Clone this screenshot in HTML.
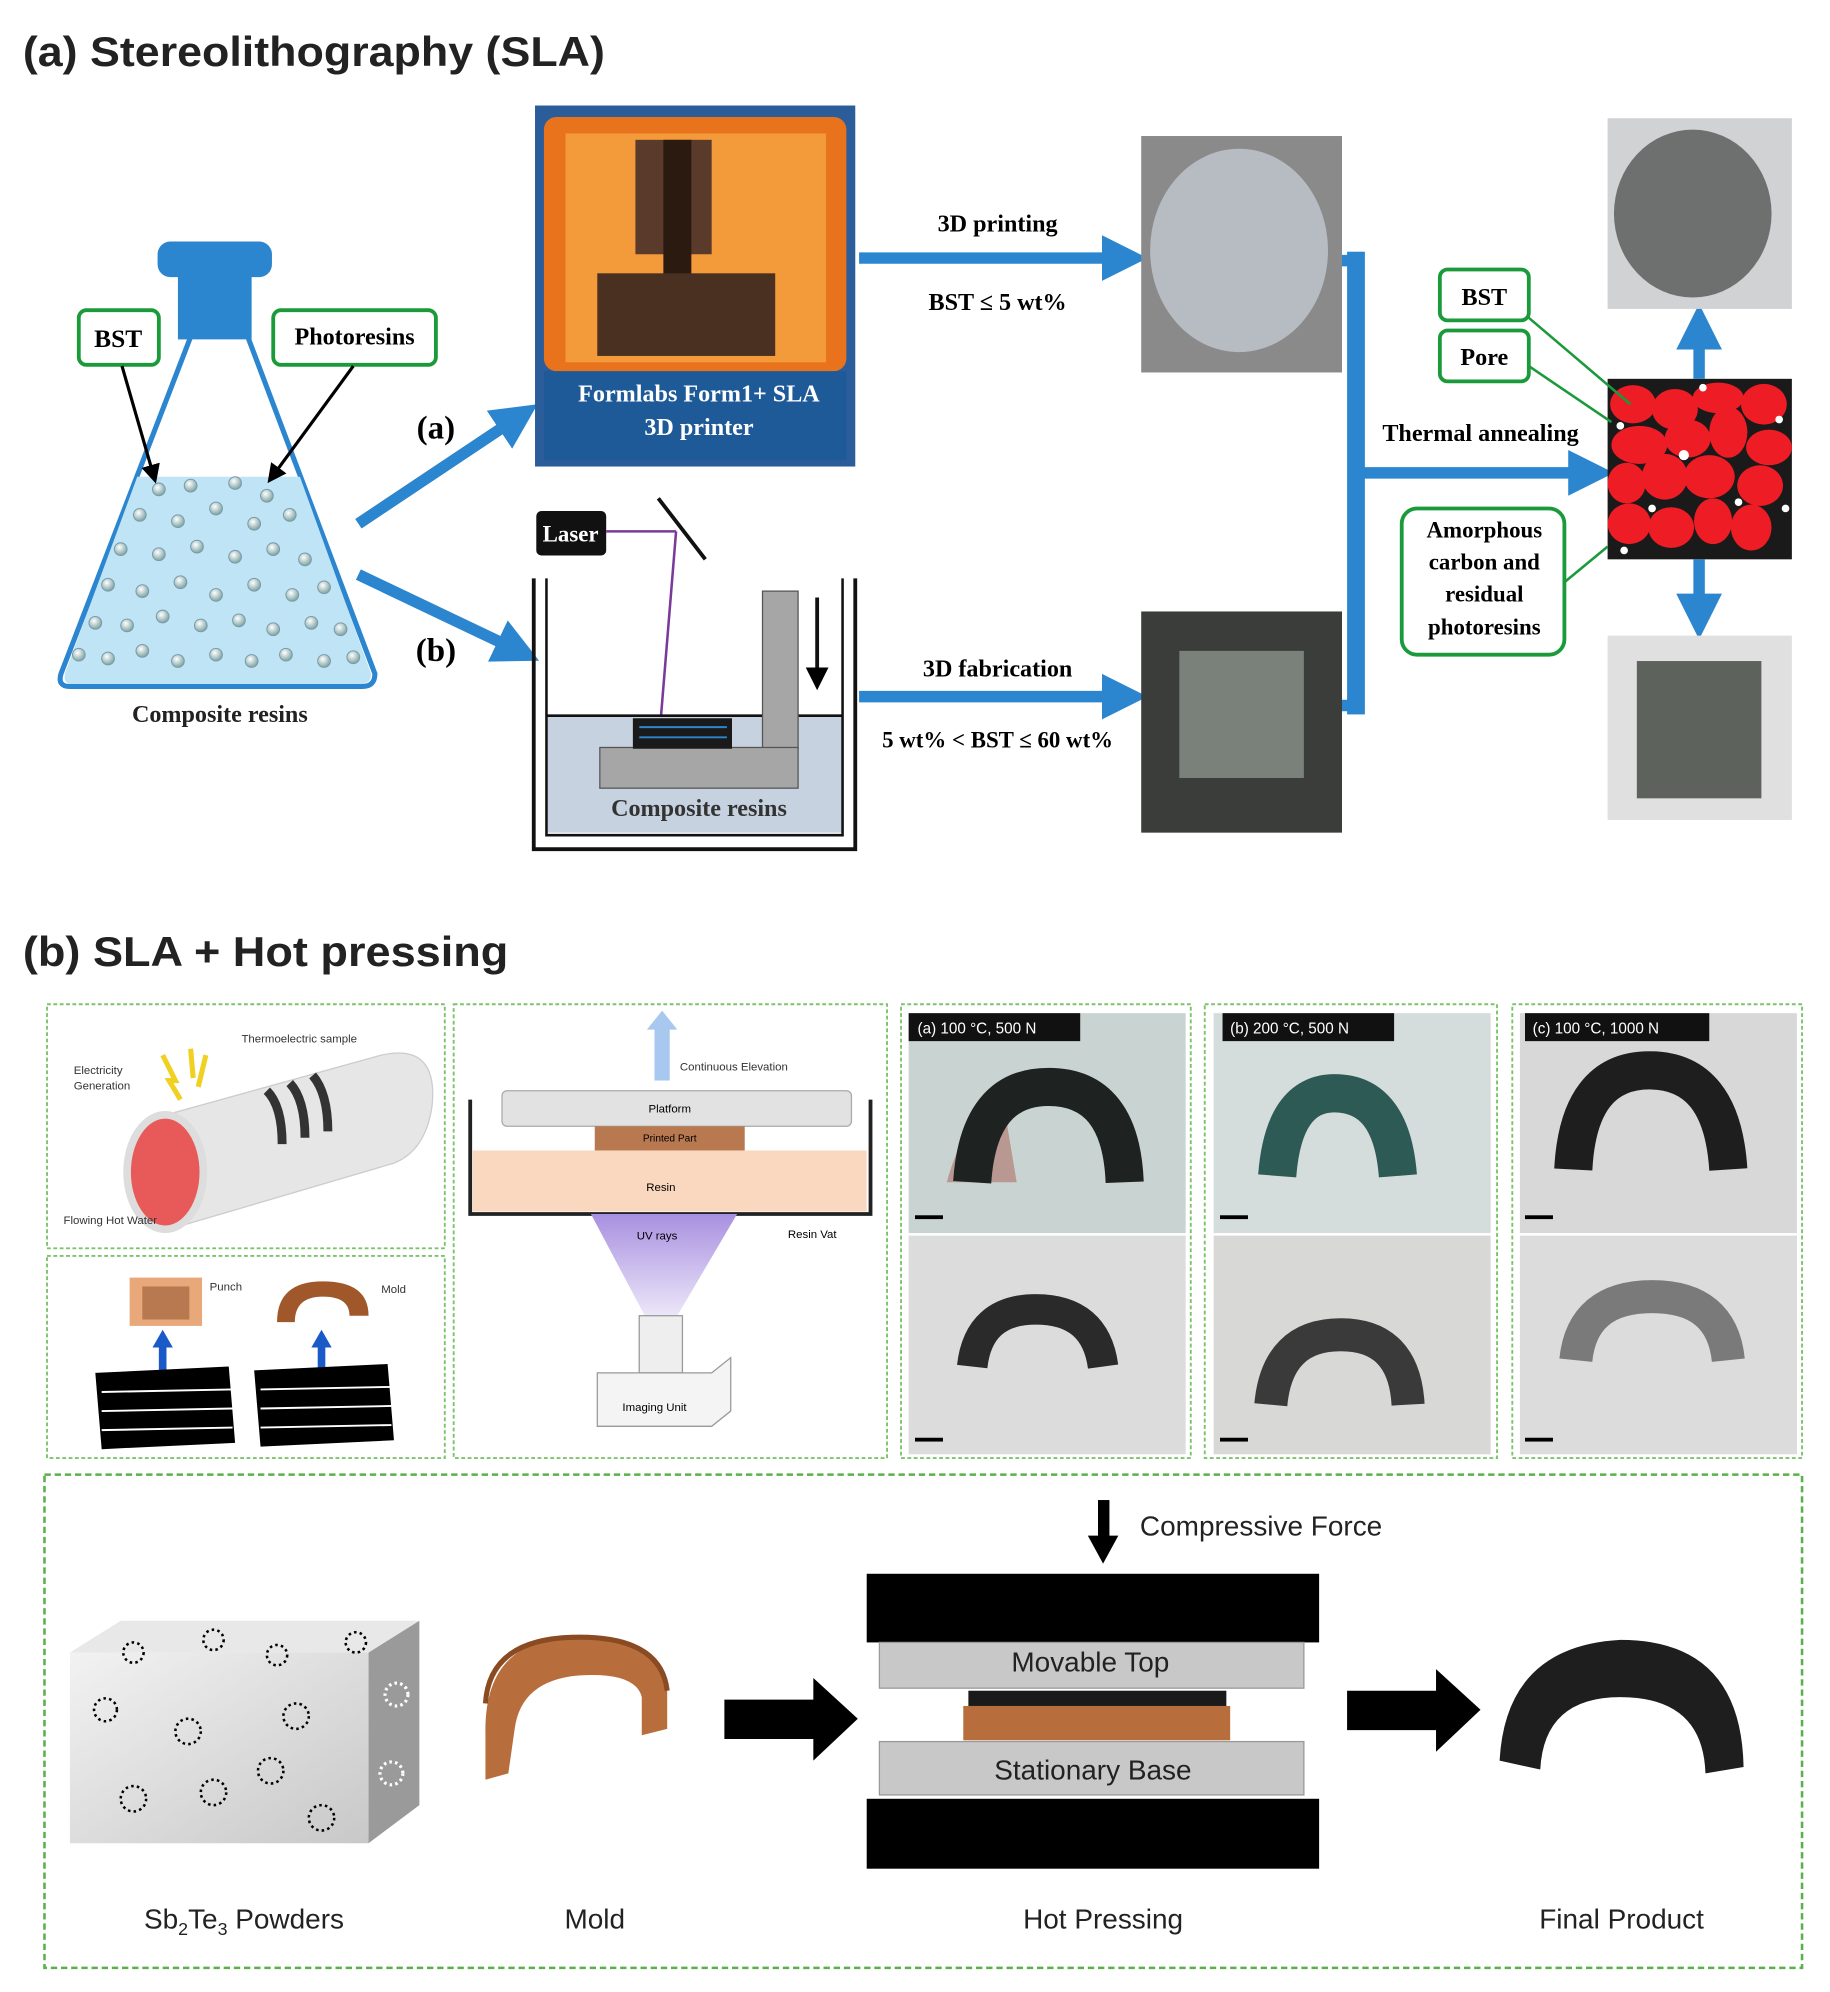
<!DOCTYPE html>
<html><head><meta charset="utf-8"><style>
html,body{margin:0;padding:0;background:#fff}
svg{display:block}
.t{font-family:"Liberation Sans",sans-serif}
.s{font-family:"Liberation Serif",serif;font-weight:bold}
</style></head><body>
<svg width="1830" height="1992" viewBox="0 0 1440 1567" preserveAspectRatio="none" xmlns="http://www.w3.org/2000/svg">
<defs>
<marker id="bh" markerWidth="4" markerHeight="4" refX="2" refY="2" orient="auto" markerUnits="strokeWidth"><path d="M0,0 L4,2 L0,4 z" fill="#2b86cf"/></marker>
<marker id="kh" markerWidth="6" markerHeight="6" refX="5" refY="3" orient="auto" markerUnits="strokeWidth"><path d="M0,0 L6,3 L0,6 z" fill="#000"/></marker>
<radialGradient id="bub" cx="0.4" cy="0.35" r="0.6"><stop offset="0" stop-color="#fff"/><stop offset="1" stop-color="#8aa"/></radialGradient>
<linearGradient id="cubeF" x1="0" y1="0" x2="1" y2="1"><stop offset="0" stop-color="#f2f2f2"/><stop offset="1" stop-color="#c8c8c8"/></linearGradient>
<linearGradient id="uv" x1="0" y1="0" x2="0" y2="1"><stop offset="0" stop-color="#a890e0"/><stop offset="1" stop-color="#f0ecfa"/></linearGradient>
</defs>
<rect width="1440" height="1567" fill="#fff"/>
<text x="18" y="52" class="t" font-size="33" font-weight="bold" fill="#222" textLength="458" lengthAdjust="spacingAndGlyphs">(a) Stereolithography (SLA)</text>

<!-- flask -->
<rect x="124" y="190" width="90" height="28" rx="10" fill="#2b86cf"/>
<rect x="140" y="215" width="58" height="52" fill="#2b86cf"/>
<path d="M150,265 L195,265 L295,530 Q295,540 285,540 L55,540 Q45,540 48,530 Z" fill="#fff" stroke="#2b86cf" stroke-width="4"/>
<path d="M108,375 L236,375 L292,530 Q292,538 284,538 L56,538 Q50,538 51,530 Z" fill="#bfe4f6"/>
<g fill="url(#bub)" stroke="#7a9aa8" stroke-width="0.8">
<circle cx="125" cy="385" r="5"/><circle cx="150" cy="382" r="5"/><circle cx="185" cy="380" r="5"/><circle cx="210" cy="390" r="5"/>
<circle cx="110" cy="405" r="5"/><circle cx="140" cy="410" r="5"/><circle cx="170" cy="400" r="5"/><circle cx="200" cy="412" r="5"/><circle cx="228" cy="405" r="5"/>
<circle cx="95" cy="432" r="5"/><circle cx="125" cy="436" r="5"/><circle cx="155" cy="430" r="5"/><circle cx="185" cy="438" r="5"/><circle cx="215" cy="432" r="5"/><circle cx="240" cy="440" r="5"/>
<circle cx="85" cy="460" r="5"/><circle cx="112" cy="465" r="5"/><circle cx="142" cy="458" r="5"/><circle cx="170" cy="468" r="5"/><circle cx="200" cy="460" r="5"/><circle cx="230" cy="468" r="5"/><circle cx="255" cy="462" r="5"/>
<circle cx="75" cy="490" r="5"/><circle cx="100" cy="492" r="5"/><circle cx="128" cy="485" r="5"/><circle cx="158" cy="492" r="5"/><circle cx="188" cy="488" r="5"/><circle cx="215" cy="495" r="5"/><circle cx="245" cy="490" r="5"/><circle cx="268" cy="495" r="5"/>
<circle cx="62" cy="515" r="5"/><circle cx="85" cy="518" r="5"/><circle cx="112" cy="512" r="5"/><circle cx="140" cy="520" r="5"/><circle cx="170" cy="515" r="5"/><circle cx="198" cy="520" r="5"/><circle cx="225" cy="515" r="5"/><circle cx="255" cy="520" r="5"/><circle cx="278" cy="517" r="5"/>
</g>
<rect x="62" y="244" width="63" height="43" rx="6" fill="#fff" stroke="#1a9a3a" stroke-width="3"/>
<text x="93" y="273" text-anchor="middle" class="s" font-size="20">BST</text>
<rect x="215" y="244" width="128" height="43" rx="6" fill="#fff" stroke="#1a9a3a" stroke-width="3"/>
<text x="279" y="271" text-anchor="middle" class="s" font-size="19">Photoresins</text>
<line x1="96" y1="288" x2="122" y2="378" stroke="#000" stroke-width="2.5" marker-end="url(#kh)"/>
<line x1="278" y1="288" x2="212" y2="378" stroke="#000" stroke-width="2.5" marker-end="url(#kh)"/>
<text x="173" y="568" text-anchor="middle" class="s" font-size="19" fill="#222">Composite resins</text>

<line x1="282" y1="412" x2="408" y2="328" stroke="#2b86cf" stroke-width="9" marker-end="url(#bh)"/>
<line x1="282" y1="452" x2="408" y2="512" stroke="#2b86cf" stroke-width="9" marker-end="url(#bh)"/>
<text x="343" y="345" text-anchor="middle" class="s" font-size="26">(a)</text>
<text x="343" y="520" text-anchor="middle" class="s" font-size="26">(b)</text>

<!-- printer photo -->
<rect x="421" y="83" width="252" height="284" fill="#2a5d9a"/>
<rect x="428" y="92" width="238" height="200" rx="10" fill="#e9731c"/>
<rect x="445" y="105" width="205" height="180" fill="#f39a3a"/>
<rect x="500" y="110" width="60" height="90" fill="#5a3a2a"/>
<rect x="522" y="110" width="22" height="160" fill="#2a1a10"/>
<rect x="470" y="215" width="140" height="65" fill="#4a3020"/>
<rect x="428" y="292" width="238" height="70" fill="#1f5a98"/>
<text x="550" y="316" text-anchor="middle" class="s" font-size="19" fill="#fff">Formlabs Form1+ SLA</text>
<text x="550" y="342" text-anchor="middle" class="s" font-size="19" fill="#fff">3D printer</text>

<!-- laser & vat -->
<rect x="422" y="402" width="55" height="35" rx="4" fill="#111"/>
<text x="449" y="426" text-anchor="middle" class="s" font-size="18" fill="#fff">Laser</text>
<line x1="477" y1="418" x2="532" y2="418" stroke="#7a3a9a" stroke-width="2"/>
<line x1="532" y1="418" x2="520" y2="565" stroke="#7a3a9a" stroke-width="2"/>
<line x1="518" y1="392" x2="555" y2="440" stroke="#111" stroke-width="3"/>
<rect x="430" y="563" width="233" height="92" fill="#c6d2e0"/>
<line x1="430" y1="563" x2="663" y2="563" stroke="#111" stroke-width="2"/>
<rect x="600" y="465" width="28" height="124" fill="#a6a6a6" stroke="#555"/>
<rect x="472" y="588" width="156" height="32" fill="#a6a6a6" stroke="#555"/>
<rect x="498" y="565" width="78" height="24" fill="#1a1a1a"/>
<line x1="503" y1="572" x2="572" y2="572" stroke="#2b86cf" stroke-width="1.5"/>
<line x1="503" y1="580" x2="572" y2="580" stroke="#2b86cf" stroke-width="1.5"/>
<line x1="643" y1="470" x2="643" y2="540" stroke="#111" stroke-width="3" marker-end="url(#kh)"/>
<path d="M420,455 L420,668 L673,668 L673,455" fill="none" stroke="#111" stroke-width="3"/>
<path d="M430,455 L430,657 L663,657 L663,455" fill="none" stroke="#111" stroke-width="2"/>
<text x="550" y="642" text-anchor="middle" class="s" font-size="19" fill="#333">Composite resins</text>

<line x1="676" y1="203" x2="885" y2="203" stroke="#2b86cf" stroke-width="9" marker-end="url(#bh)"/>
<text x="785" y="182" text-anchor="middle" class="s" font-size="19">3D printing</text>
<text x="785" y="244" text-anchor="middle" class="s" font-size="19">BST ≤ 5 wt%</text>
<line x1="676" y1="548" x2="885" y2="548" stroke="#2b86cf" stroke-width="9" marker-end="url(#bh)"/>
<text x="785" y="532" text-anchor="middle" class="s" font-size="19">3D fabrication</text>
<text x="785" y="588" text-anchor="middle" class="s" font-size="18">5 wt% &lt; BST ≤ 60 wt%</text>

<rect x="898" y="107" width="158" height="186" fill="#8a8a8a"/>
<ellipse cx="975" cy="197" rx="70" ry="80" fill="#b6bcc2"/>
<rect x="898" y="481" width="158" height="174" fill="#3a3d3a"/>
<rect x="928" y="512" width="98" height="100" fill="#7a807a"/>

<rect x="1060" y="198" width="14" height="364" fill="#2b86cf"/>
<line x1="1056" y1="205" x2="1072" y2="205" stroke="#2b86cf" stroke-width="9"/>
<line x1="1056" y1="555" x2="1072" y2="555" stroke="#2b86cf" stroke-width="9"/>
<line x1="1068" y1="372" x2="1252" y2="372" stroke="#2b86cf" stroke-width="9" marker-end="url(#bh)"/>
<text x="1165" y="347" text-anchor="middle" class="s" font-size="19">Thermal annealing</text>

<rect x="1265" y="298" width="145" height="142" fill="#1a1a1a"/>
<g fill="#ee1c25">
<ellipse cx="1285" cy="318" rx="18" ry="15"/><ellipse cx="1318" cy="322" rx="18" ry="16"/><ellipse cx="1352" cy="313" rx="20" ry="12"/><ellipse cx="1388" cy="318" rx="18" ry="16"/>
<ellipse cx="1290" cy="350" rx="22" ry="15"/><ellipse cx="1328" cy="345" rx="18" ry="15"/><ellipse cx="1360" cy="340" rx="15" ry="20"/><ellipse cx="1392" cy="352" rx="18" ry="14"/>
<ellipse cx="1280" cy="380" rx="15" ry="16"/><ellipse cx="1310" cy="375" rx="18" ry="18"/><ellipse cx="1345" cy="375" rx="20" ry="17"/><ellipse cx="1385" cy="382" rx="18" ry="16"/>
<ellipse cx="1282" cy="412" rx="17" ry="16"/><ellipse cx="1315" cy="415" rx="18" ry="16"/><ellipse cx="1348" cy="410" rx="15" ry="18"/><ellipse cx="1378" cy="415" rx="16" ry="18"/>
</g>
<g fill="#fff"><circle cx="1275" cy="335" r="3"/><circle cx="1325" cy="358" r="4"/><circle cx="1300" cy="400" r="3"/><circle cx="1368" cy="395" r="3"/><circle cx="1400" cy="330" r="3"/><circle cx="1405" cy="400" r="3"/><circle cx="1340" cy="305" r="3"/><circle cx="1278" cy="433" r="3"/></g>
<line x1="1337" y1="298" x2="1337" y2="257" stroke="#2b86cf" stroke-width="9" marker-end="url(#bh)"/>
<line x1="1337" y1="440" x2="1337" y2="485" stroke="#2b86cf" stroke-width="9" marker-end="url(#bh)"/>
<rect x="1265" y="93" width="145" height="150" fill="#d0d2d4"/>
<ellipse cx="1332" cy="168" rx="62" ry="66" fill="#6e7070"/>
<rect x="1265" y="500" width="145" height="145" fill="#e0e0e0"/>
<rect x="1288" y="520" width="98" height="108" fill="#5e625c"/>

<rect x="1133" y="212" width="70" height="40" rx="6" fill="#fff" stroke="#1a9a3a" stroke-width="3"/>
<text x="1168" y="240" text-anchor="middle" class="s" font-size="19">BST</text>
<rect x="1133" y="260" width="70" height="40" rx="6" fill="#fff" stroke="#1a9a3a" stroke-width="3"/>
<text x="1168" y="287" text-anchor="middle" class="s" font-size="19">Pore</text>
<rect x="1103" y="400" width="128" height="115" rx="12" fill="#fff" stroke="#1a9a3a" stroke-width="3"/>
<text x="1168" y="423" text-anchor="middle" class="s" font-size="18">Amorphous</text>
<text x="1168" y="448" text-anchor="middle" class="s" font-size="18">carbon and</text>
<text x="1168" y="473" text-anchor="middle" class="s" font-size="18">residual</text>
<text x="1168" y="499" text-anchor="middle" class="s" font-size="18">photoresins</text>
<line x1="1203" y1="250" x2="1283" y2="318" stroke="#1a9a3a" stroke-width="2"/>
<line x1="1203" y1="288" x2="1268" y2="332" stroke="#1a9a3a" stroke-width="2"/>
<line x1="1231" y1="458" x2="1265" y2="430" stroke="#1a9a3a" stroke-width="2"/>

<!-- (b) -->
<text x="18" y="760" class="t" font-size="33" font-weight="bold" fill="#222" textLength="382" lengthAdjust="spacingAndGlyphs">(b) SLA + Hot pressing</text>
<g fill="none" stroke="#7cc46a" stroke-width="1.5" stroke-dasharray="3,2">
<rect x="37" y="790" width="313" height="192"/><rect x="37" y="988" width="313" height="159"/>
<rect x="357" y="790" width="341" height="357"/><rect x="709" y="790" width="228" height="357"/>
<rect x="948" y="790" width="230" height="357"/><rect x="1190" y="790" width="228" height="357"/>
</g>
<path d="M120,880 L300,830 Q345,820 340,870 Q335,905 310,915 L140,965 Z" fill="#e6e6e6" stroke="#ccc"/>
<ellipse cx="130" cy="922" rx="30" ry="45" fill="#e85a5a" stroke="#ddd" stroke-width="6"/>
<path d="M210,858 Q222,870 222,900 M228,852 Q240,865 240,895 M246,846 Q258,860 258,890" stroke="#333" stroke-width="7" fill="none"/>
<path d="M128,830 L138,850 L133,850 L142,865 M150,825 L152,848 M162,830 L156,855" stroke="#f0d020" stroke-width="4" fill="none"/>
<g class="t" font-size="9" fill="#333"><text x="190" y="820">Thermoelectric sample</text><text x="58" y="845">Electricity</text><text x="58" y="857">Generation</text><text x="50" y="963">Flowing Hot Water</text></g>
<rect x="102" y="1005" width="57" height="38" fill="#e8a87a"/><rect x="112" y="1012" width="37" height="26" fill="#b87850"/>
<path d="M218,1040 Q218,1008 254,1008 Q290,1008 290,1035 L275,1035 Q275,1020 254,1020 Q232,1020 232,1040 Z" fill="#a0582a"/>
<rect x="125" y="1058" width="6" height="20" fill="#1a5ac8"/><path d="M120,1060 L128,1046 L136,1060 Z" fill="#1a5ac8"/>
<rect x="250" y="1058" width="6" height="20" fill="#1a5ac8"/><path d="M245,1060 L253,1046 L261,1060 Z" fill="#1a5ac8"/>
<g class="t" font-size="9" fill="#333"><text x="165" y="1015">Punch</text><text x="300" y="1017">Mold</text></g>
<g fill="#000"><path d="M75,1080 L180,1075 L185,1135 L80,1140 Z"/><path d="M200,1078 L305,1073 L310,1133 L205,1138 Z"/></g>
<g stroke="#fff" stroke-width="1.5"><line x1="80" y1="1095" x2="183" y2="1093"/><line x1="80" y1="1110" x2="183" y2="1108"/><line x1="80" y1="1125" x2="183" y2="1123"/><line x1="205" y1="1093" x2="308" y2="1091"/><line x1="205" y1="1108" x2="308" y2="1106"/><line x1="205" y1="1123" x2="308" y2="1121"/></g>
<rect x="515" y="808" width="12" height="42" fill="#a8c8f0"/><path d="M509,810 L521,795 L533,810 Z" fill="#a8c8f0"/>
<text x="535" y="842" class="t" font-size="9" fill="#333">Continuous Elevation</text>
<rect x="395" y="858" width="275" height="28" rx="4" fill="#e2e2e2" stroke="#aaa"/>
<text x="527" y="875" class="t" font-size="9" text-anchor="middle">Platform</text>
<rect x="468" y="886" width="118" height="20" fill="#b87850"/>
<text x="527" y="898" class="t" font-size="8" text-anchor="middle">Printed Part</text>
<rect x="372" y="905" width="310" height="48" fill="#fad8c0"/>
<text x="520" y="937" class="t" font-size="9" text-anchor="middle">Resin</text>
<path d="M370,865 L370,955 L685,955 L685,865" fill="none" stroke="#222" stroke-width="3"/>
<path d="M465,955 L580,955 L530,1040 L510,1040 Z" fill="url(#uv)"/>
<text x="517" y="975" class="t" font-size="9" text-anchor="middle">UV rays</text>
<text x="620" y="974" class="t" font-size="9">Resin Vat</text>
<rect x="503" y="1035" width="34" height="45" fill="#eee" stroke="#999"/>
<path d="M470,1080 L560,1080 L575,1068 L575,1110 L560,1122 L470,1122 Z" fill="#f4f4f4" stroke="#999"/>
<text x="515" y="1110" class="t" font-size="9" text-anchor="middle">Imaging Unit</text>
<g>
<rect x="715" y="797" width="218" height="173" fill="#c9d4d2"/><rect x="715" y="972" width="218" height="172" fill="#dcdcdc"/>
<rect x="955" y="797" width="218" height="173" fill="#d5dcdc"/><rect x="955" y="972" width="218" height="172" fill="#d8d8d6"/>
<rect x="1196" y="797" width="218" height="173" fill="#d8d8d8"/><rect x="1196" y="972" width="218" height="172" fill="#dcdcdc"/>
</g>
<path d="M745,930 Q760,875 790,870 L800,930 Z" fill="#b89890"/>
<g fill="none" stroke-width="30">
<path d="M765,930 Q770,855 825,855 Q882,855 885,930" stroke="#1e2220"/>
<path d="M765,1075 Q770,1030 815,1030 Q862,1030 868,1075" stroke="#2a2a2a" stroke-width="24"/>
<path d="M1005,925 Q1010,860 1050,860 Q1095,860 1100,925" stroke="#2e5a55"/>
<path d="M1000,1105 Q1005,1050 1055,1050 Q1105,1050 1108,1105" stroke="#3a3a3a" stroke-width="26"/>
<path d="M1238,920 Q1242,842 1298,842 Q1355,842 1360,920" stroke="#1e1e1e"/>
<path d="M1240,1070 Q1245,1020 1300,1020 Q1355,1020 1360,1070" stroke="#7a7a7a" stroke-width="26"/>
</g>
<g fill="#111"><rect x="715" y="797" width="135" height="22"/><rect x="962" y="797" width="135" height="22"/><rect x="1200" y="797" width="145" height="22"/></g>
<g class="t" font-size="12" fill="#fff"><text x="722" y="813">(a) 100 °C, 500 N</text><text x="968" y="813">(b) 200 °C, 500 N</text><text x="1206" y="813">(c) 100 °C, 1000 N</text></g>
<g fill="#000"><rect x="720" y="956" width="22" height="3"/><rect x="720" y="1131" width="22" height="3"/><rect x="960" y="956" width="22" height="3"/><rect x="960" y="1131" width="22" height="3"/><rect x="1200" y="956" width="22" height="3"/><rect x="1200" y="1131" width="22" height="3"/></g>

<rect x="35" y="1160" width="1383" height="388" fill="none" stroke="#5ab04a" stroke-width="2" stroke-dasharray="5,3"/>
<rect x="864" y="1180" width="9" height="30" fill="#000"/>
<path d="M856,1208 L868,1230 L880,1208 Z" fill="#000"/>
<text x="897" y="1208" class="t" font-size="22" fill="#222">Compressive Force</text>
<rect x="682" y="1238" width="356" height="54" fill="#000"/>
<rect x="692" y="1292" width="334" height="36" fill="#c8c8c8" stroke="#999"/>
<text x="858" y="1315" text-anchor="middle" class="t" font-size="22" fill="#222">Movable Top</text>
<rect x="762" y="1330" width="203" height="12" fill="#1a1a1a"/>
<rect x="758" y="1342" width="210" height="27" fill="#b86e3c"/>
<rect x="692" y="1370" width="334" height="42" fill="#c8c8c8" stroke="#999"/>
<text x="860" y="1400" text-anchor="middle" class="t" font-size="22" fill="#222">Stationary Base</text>
<rect x="682" y="1415" width="356" height="55" fill="#000"/>
<path d="M570,1337 L640,1337 L640,1320 L675,1352 L640,1385 L640,1368 L570,1368 Z" fill="#000"/>
<path d="M1060,1330 L1130,1330 L1130,1313 L1165,1345 L1130,1378 L1130,1361 L1060,1361 Z" fill="#000"/>
<path d="M55,1300 L95,1275 L330,1275 L290,1300 Z" fill="#e8e8e8"/>
<path d="M290,1300 L330,1275 L330,1420 L290,1450 Z" fill="#9a9a9a"/>
<rect x="55" y="1300" width="235" height="150" fill="url(#cubeF)"/>
<g fill="none" stroke="#000" stroke-width="2" stroke-dasharray="2,2.5">
<circle cx="105" cy="1300" r="8"/><circle cx="168" cy="1290" r="8"/><circle cx="218" cy="1302" r="8"/><circle cx="280" cy="1292" r="8"/>
<circle cx="83" cy="1345" r="9"/><circle cx="148" cy="1362" r="10"/><circle cx="233" cy="1350" r="10"/><circle cx="213" cy="1393" r="10"/><circle cx="105" cy="1415" r="10"/><circle cx="168" cy="1410" r="10"/><circle cx="253" cy="1430" r="10"/>
</g>
<g fill="none" stroke="#fff" stroke-width="2.5" stroke-dasharray="2,2.5"><circle cx="312" cy="1333" r="9"/><circle cx="308" cy="1395" r="9"/></g>
<path d="M382,1365 Q380,1290 450,1288 Q520,1286 525,1330 L525,1360 L505,1365 L505,1335 Q500,1315 455,1318 Q410,1322 405,1360 L400,1395 L382,1400 Z" fill="#b86e3c"/>
<path d="M382,1340 Q385,1290 450,1288 Q520,1286 525,1330" fill="none" stroke="#8a4a22" stroke-width="4"/>
<path d="M1180,1385 Q1185,1295 1275,1290 Q1370,1290 1372,1390 L1342,1395 Q1340,1335 1275,1335 Q1215,1335 1212,1392 Z" fill="#1e1e1e"/>
<g class="t" font-size="22" fill="#222" text-anchor="middle">
<text x="192" y="1517">Sb<tspan font-size="14" dy="5">2</tspan><tspan dy="-5">Te</tspan><tspan font-size="14" dy="5">3</tspan><tspan dy="-5"> Powders</tspan></text>
<text x="468" y="1517">Mold</text><text x="868" y="1517">Hot Pressing</text><text x="1276" y="1517">Final Product</text>
</g>
</svg>
</body></html>
